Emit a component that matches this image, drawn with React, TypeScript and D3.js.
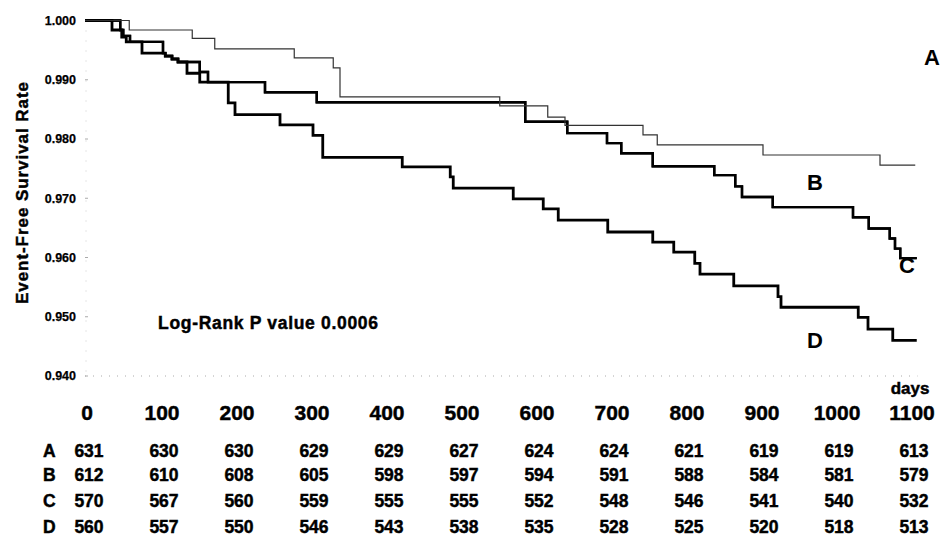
import React from 'react';
import * as d3 from 'd3';

const width = 949;
const height = 536;

// x axis: days, y axis: event-free survival
const dayTicks = [0, 100, 200, 300, 400, 500, 600, 700, 800, 900, 1000, 1100];
const rateTicks = [1.0, 0.99, 0.98, 0.97, 0.96, 0.95, 0.94];
const groups = ['A', 'B', 'C', 'D'];

// numbers at risk, one per day tick
const atRiskA = [631, 630, 630, 629, 629, 627, 624, 624, 621, 619, 619, 613];
const atRiskB = [612, 610, 608, 605, 598, 597, 594, 591, 588, 584, 581, 579];
const atRiskC = [570, 567, 560, 559, 555, 555, 552, 548, 546, 541, 540, 532];
const atRiskD = [560, 557, 550, 546, 543, 538, 535, 528, 525, 520, 518, 513];

// Kaplan-Meier steps [day, survival]
const survA: [number, number][] = [
    [0, 1], [59, 0.9984], [143, 0.997], [173, 0.9952], [279, 0.9937], [331, 0.992],
    [340, 0.9871], [553, 0.9856], [617, 0.9837], [640, 0.9823], [744, 0.9807],
    [763, 0.979], [904, 0.9773], [1060, 0.9756], [1107, 0.9756]
];
const survB: [number, number][] = [
    [0, 1], [47, 0.9984], [51, 0.9974], [60, 0.9964], [104, 0.9945], [107, 0.994],
    [116, 0.9935], [124, 0.993], [153, 0.9913], [164, 0.9896], [240, 0.9879],
    [309, 0.9862], [587, 0.9829], [643, 0.981], [696, 0.9793], [715, 0.9776],
    [757, 0.9754], [839, 0.9739], [867, 0.972], [876, 0.9702], [917, 0.9685],
    [1024, 0.9668], [1045, 0.9649], [1073, 0.9632], [1080, 0.9615], [1087, 0.9599],
    [1109, 0.9599]
];
const survC: [number, number][] = [
    [0, 1], [47, 0.9984], [51, 0.9974], [60, 0.9964], [104, 0.9945], [107, 0.994],
    [116, 0.9935], [124, 0.993], [153, 0.9913], [164, 0.9896], [240, 0.9879],
    [309, 0.9862], [587, 0.9829], [643, 0.981], [696, 0.9793], [715, 0.9776],
    [757, 0.9754], [839, 0.9739], [867, 0.972], [876, 0.9702], [917, 0.9685],
    [1024, 0.9668], [1045, 0.9649], [1073, 0.9632], [1080, 0.9615], [1087, 0.9599],
    [1109, 0.9599]
];
const survD: [number, number][] = [
    [0, 1], [36, 0.9984], [49, 0.9972], [55, 0.9964], [76, 0.9945], [107, 0.994],
    [116, 0.9935], [124, 0.993], [136, 0.9911], [153, 0.9896], [191, 0.9861],
    [200, 0.9841], [260, 0.9824], [304, 0.9806], [317, 0.9769], [423, 0.9753],
    [487, 0.9736], [491, 0.9717], [571, 0.9699], [611, 0.9682], [631, 0.9663],
    [697, 0.9643], [757, 0.9626], [785, 0.9609], [813, 0.959], [820, 0.9572],
    [865, 0.9552], [924, 0.9534], [928, 0.9516], [1031, 0.9499], [1044, 0.9479],
    [1077, 0.946], [1109, 0.946]
];

const font = 'Arial, "Liberation Sans", sans-serif';

export default function App() {
    const x = d3.scaleLinear().domain([0, 1100]).range([85, 910]);
    const y = d3.scaleLinear().domain([0.94, 1.0]).range([376, 20.5]);

    const line = d3.line<[number, number]>()
        .x(d => x(d[0]))
        .y(d => y(d[1]))
        .curve(d3.curveStepAfter);

    const curves = [
        { key: 'D', data: survD, w: 2.8, color: '#000' },
        { key: 'C', data: survC, w: 2.4, color: '#000' },
        { key: 'B', data: survB, w: 2.4, color: '#000' },
        { key: 'A', data: survA, w: 1.2, color: '#333' }
    ];

    const rows = [atRiskA, atRiskB, atRiskC, atRiskD];
    const rowBase = [457, 481, 507, 533];

    // curve name labels
    const labels = [
        { t: 'A', cx: 932, cy: 65 },
        { t: 'B', cx: 815, cy: 190 },
        { t: 'C', cx: 907, cy: 273 },
        { t: 'D', cx: 815, cy: 348 }
    ];

    // heavier look of the scanned lettering
    const heavy = { stroke: '#000', strokeWidth: 0.45 };

    return (
        <svg width={width} height={height} style={{ position: 'absolute', left: 0, top: 0, background: '#fff' }}
            fontFamily={font} fontWeight="bold">
            <rect width={width} height={height} fill="#fff" />

            {/* faint axes */}
            <line x1={x(0)} x2={x(1110)} y1={y(0.94)} y2={y(0.94)} stroke="#aaa" strokeDasharray="1 7" />
            <line x1={x(0) + 1} x2={x(0) + 1} y1={y(1)} y2={y(0.94)} stroke="#ccc" strokeDasharray="1 9" />
            {rateTicks.map(t => (
                <g key={t}>
                    <line x1={x(0)} x2={x(0) + 3} y1={y(t)} y2={y(t)} stroke="#aaa" />
                    <text x={76} y={y(t)} dy="0.35em" textAnchor="end" fontSize={12.5}
                        stroke="#000" strokeWidth={0.25}>{t.toFixed(3)}</text>
                </g>
            ))}

            <text transform="translate(22,193) rotate(-90)" textAnchor="middle" dy="0.35em"
                fontSize={17} textLength={222} lengthAdjust="spacing" {...heavy}>Event-Free Survival Rate</text>

            {curves.map(c => (
                <path key={c.key} d={line(c.data) || ''} fill="none" stroke={c.color}
                    strokeWidth={c.w} strokeLinejoin="miter" />
            ))}

            {labels.map(l => (
                <text key={l.t} x={l.cx} y={l.cy} textAnchor="middle" fontSize={22}>{l.t}</text>
            ))}

            <text x={158} y={329} fontSize={17.5} textLength={220} lengthAdjust="spacing" {...heavy}>Log-Rank P value 0.0006</text>

            <text x={910} y={394} textAnchor="middle" fontSize={17} {...heavy}>days</text>
            {dayTicks.map(d => (
                <text key={d} x={x(d) + 2} y={420} textAnchor="middle" fontSize={21} {...heavy}>{d}</text>
            ))}

            {rows.map((vals, i) => (
                <g key={groups[i]}>
                    <text x={43} y={rowBase[i]} fontSize={17.5} {...heavy}>{groups[i]}</text>
                    {vals.map((v, j) => (
                        <text key={j} x={x(dayTicks[j]) + 4} y={rowBase[i]} textAnchor="middle"
                            fontSize={17.5} {...heavy}>{v}</text>
                    ))}
                </g>
            ))}
        </svg>
    );
}
